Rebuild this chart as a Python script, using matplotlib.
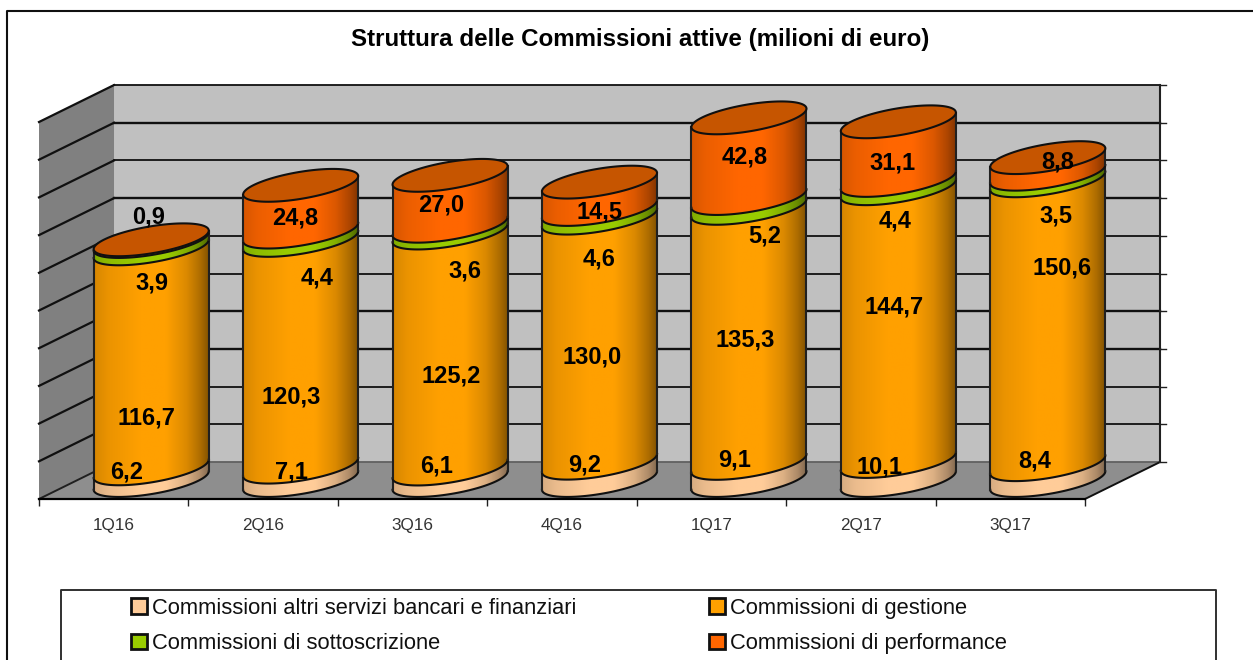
import numpy as np
import matplotlib
matplotlib.use('Agg')
import matplotlib.pyplot as plt
from matplotlib.patches import Polygon, Patch
from matplotlib.lines import Line2D
from matplotlib.transforms import Affine2D

plt.rcParams['font.family'] = ['Liberation Sans']

# Data (milioni di euro)
quarters = ['1Q16', '2Q16', '3Q16', '4Q16', '1Q17', '2Q17', '3Q17']
altri = [6.2, 7.1, 6.1, 9.2, 9.1, 10.1, 8.4]
gestione = [116.7, 120.3, 125.2, 130.0, 135.3, 144.7, 150.6]
sottoscrizione = [3.9, 4.4, 3.6, 4.6, 5.2, 4.4, 3.5]
performance = [0.9, 24.8, 27.0, 14.5, 42.8, 31.1, 8.8]
series_names = ['Commissioni altri servizi bancari e finanziari', 'Commissioni di gestione',
                'Commissioni di sottoscrizione', 'Commissioni di performance']
axis_ticks = list(range(0, 201, 20))

series = [altri, gestione, sottoscrizione, performance]
colors = ['#FFCC99', '#FFA000', '#99CC00', '#FF6600']
top_color = '#C65500'

# label positions in picture pixels, one list per series
pos_altri = [(127, 472), (291, 472), (437, 466), (585, 465), (735, 460), (880, 467), (1035, 461)]
pos_gestione = [(146, 418), (291, 397), (451, 376), (592, 357), (745, 340), (894, 307), (1062, 268)]
pos_sottoscrizione = [(152, 283), (317, 278), (465, 271), (599, 259), (765, 236), (895, 221), (1056, 216)]
pos_performance = [(149, 217), (295, 218), (441, 205), (600, 212), (745, 157), (892, 163), (1058, 162)]
label_pos = [pos_altri, pos_gestione, pos_sottoscrizione, pos_performance]

W, H = 1253, 660
fig = plt.figure(figsize=(W / 100, H / 100), dpi=100, facecolor='white')
pix = Affine2D().scale(1, -1).translate(0, H)

# front plane of the 3D box
ax = fig.add_axes([39 / W, (H - 499) / H, (1085 - 39) / W, (499 - 122) / H])
ax.set_xlim(-0.5, 6.5)
ax.set_ylim(0, 200)
ax.patch.set_visible(False)
for s in ['top', 'left', 'right']:
    ax.spines[s].set_visible(False)
ax.spines['bottom'].set_linewidth(1.6)
ax.spines['bottom'].set_zorder(3)

dx, dy = 0.502, 19.6  # box depth in data units
x0, x1 = -0.5, 6.5

# walls and floor
ax.add_patch(Polygon([(x0, 0), (x0 + dx, dy), (x1 + dx, dy), (x1, 0)], fc='#8E8E8E', ec='none', zorder=1, clip_on=False))
ax.add_patch(Polygon([(x0 + dx, dy), (x0 + dx, 200 + dy), (x1 + dx, 200 + dy), (x1 + dx, dy)], fc='#C0C0C0', ec='none', zorder=1, clip_on=False))
ax.add_patch(Polygon([(x0, 0), (x0, 200), (x0 + dx, 200 + dy), (x0 + dx, dy)], fc='#808080', ec='none', zorder=1, clip_on=False))

for v in axis_ticks:
    lw = 1.7 if v in (180, 140, 80, 60) else 1.3
    col = '#606060' if v == 0 else '#101010'
    ax.plot([x0 + dx, x1 + dx], [v + dy, v + dy], color=col, lw=lw, zorder=2, clip_on=False)
    if v > 0:
        ax.plot([x0, x0 + dx], [v, v + dy], color='#101010', lw=1.6, zorder=2, clip_on=False)
    ax.plot([x1 + dx, x1 + dx + 0.04], [v + dy, v + dy], color='#202020', lw=1.0, zorder=2, clip_on=False)
ax.plot([x0, x0 + dx], [0, dy], color='#202020', lw=1.4, zorder=2, clip_on=False)
ax.plot([x1, x1 + dx], [0, dy], color='#101010', lw=1.4, zorder=2, clip_on=False)
ax.plot([x1 + dx, x1 + dx], [dy, 200 + dy], color='#202020', lw=1.5, zorder=2, clip_on=False)

# x axis: boundary ticks, labels between them
ax.set_xticks(np.arange(-0.5, 7, 1))
ax.set_xticklabels([])
ax.set_xticks(range(7), quarters, minor=True)
ax.set_yticks([])
ax.tick_params(axis='x', which='major', length=5, width=1.0, color='#202020')
ax.tick_params(axis='x', which='minor', length=0, labelsize=12.3, labelcolor='#333333', pad=13.5)

# cylinders
a = 0.385  # half width in categories
b, c = 7.2, 4.9  # ellipse height and tilt in value units
t = np.linspace(np.pi, 2 * np.pi, 60)
shade_x = [0.0, 0.12, 0.4, 0.62, 0.8, 0.92, 1.0]
shade_y = [0.84, 0.92, 1.0, 1.0, 0.86, 0.68, 0.5]
grad = np.interp(np.linspace(0, 1, 256), shade_x, shade_y)


def rgb(col):
    return np.array(matplotlib.colors.to_rgb(col))


z = 4
for i in range(len(quarters)):
    cx = i + dx / 2
    cy = dy / 2
    bottom = 0.0
    for k, vals in enumerate(series):
        low = cy + bottom
        high = low + vals[i]
        fx = cx + a * np.cos(t)
        fy = c * np.cos(t) + b * np.sin(t)
        outline = np.column_stack([np.r_[fx, fx[::-1]], np.r_[low + fy, high + fy[::-1]]])
        clip = Polygon(outline, closed=True, fc='none', ec='none', transform=ax.transData, clip_on=False)
        ax.add_patch(clip)
        img = grad[None, :, None] * rgb(colors[k])[None, None, :]
        im = ax.imshow(img, extent=[cx - a, cx + a, low - b - c - 1, high + b + c + 1], aspect='auto', zorder=z, interpolation='bilinear')
        im.set_clip_box(fig.bbox)
        im.set_clip_path(clip)
        # sides and lower front curve
        ax.plot(fx, low + fy, color='#101010', lw=1.5, zorder=z + 1, clip_on=False)
        ax.plot([cx - a, cx - a], [low - c, high - c], color='#202020', lw=1.5, zorder=z + 1, clip_on=False)
        ax.plot([cx + a, cx + a], [low + c, high + c], color='#202020', lw=1.5, zorder=z + 1, clip_on=False)
        bottom += vals[i]
        z += 2
    # top of the cylinder
    tt = np.linspace(0, 2 * np.pi, 120)
    top = cy + bottom
    ax.add_patch(Polygon(np.column_stack([cx + a * np.cos(tt), top + c * np.cos(tt) + b * np.sin(tt)]),
                         closed=True, fc=top_color, ec='#101010', lw=1.5, zorder=z, clip_on=False))
    z += 2

ax.set_xlim(-0.5, 6.5)
ax.set_ylim(0, 200)

# data labels
for k, vals in enumerate(series):
    for i, v in enumerate(vals):
        px, py = label_pos[k][i]
        ax.text(px, py, f'{v:.1f}'.replace('.', ','), transform=pix, ha='center', va='center',
                fontsize=17, fontweight='bold', color='black', zorder=500, clip_on=False)

# title
fig.text(640.5 / W, 1 - 39.5 / H, 'Struttura delle Commissioni attive (milioni di euro)', ha='center', va='center',
         fontsize=17.4, fontweight='bold', color='black')

# outer frame, open on the right and at the bottom
fig.add_artist(Line2D([6.5 / W, 6.5 / W, 1], [0, 1 - 10.5 / H, 1 - 10.5 / H], color='#101010', lw=1.5))

# legend box runs off the bottom of the picture
fig.add_artist(Line2D([60.5 / W, 60.5 / W, 1216 / W, 1216 / W], [0, 1 - 590 / H, 1 - 590 / H, 0], color='#303030', lw=1.4))
handles = [Patch(fc=colors[j], ec='#101010', lw=2) for j in [0, 2, 1, 3]]
names = [series_names[j] for j in [0, 2, 1, 3]]
leg = fig.legend(handles, names, ncol=2, frameon=False, loc='upper left',
                 bbox_to_anchor=(110 / W, 1 - 577 / H), fontsize=15.75, handlelength=0.73, handleheight=0.73,
                 handletextpad=0.25, columnspacing=6.05, labelspacing=0.66, borderpad=0.45, labelcolor='#101010')

fig.savefig('out.png', dpi=100)
